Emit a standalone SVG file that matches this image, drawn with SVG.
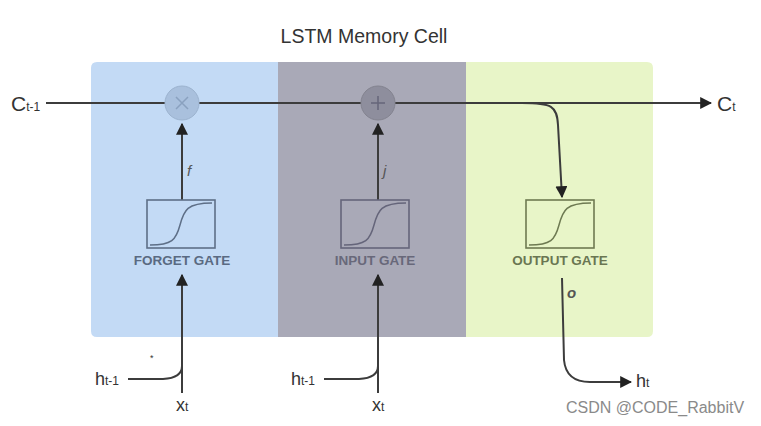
<svg xmlns="http://www.w3.org/2000/svg" width="761" height="426" viewBox="0 0 761 426">
<defs>
<style>
.t{font-family:"Liberation Sans",Arial,sans-serif;fill:#333}
.big{font-size:21px}
.sub{font-size:12px}
.lab{font-size:18px}
.gt{font-family:"Liberation Sans",Arial,sans-serif;font-size:13.5px;font-weight:bold;text-anchor:middle}
.ln{fill:none;stroke:#3c3c3c;stroke-width:2}
.box{stroke-width:1.6}
.it{font-family:"Liberation Sans",Arial,sans-serif;font-style:italic;font-size:15px;fill:#555}
</style>
<marker id="ah" viewBox="0 0 10 10" refX="9" refY="5" markerWidth="6" markerHeight="6" orient="auto-start-reverse">
<path d="M0,0 L10,5 L0,10 z" fill="#222"/>
</marker>
</defs>
<rect width="761" height="426" fill="#ffffff"/>

<text class="t" x="364" y="43" font-size="19.5" text-anchor="middle" fill="#444">LSTM Memory Cell</text>

<g id="panels">
<path d="M97,62 H278 V337 H97 Q91,337 91,331 V68 Q91,62 97,62 z" fill="#c3daf5"/>
<rect x="278" y="62" width="188" height="275" fill="#a9a9b7"/>
<path d="M466,62 H647 Q653,62 653,68 V331 Q653,337 647,337 H466 z" fill="#e8f5c8"/>
</g>

<g id="connectors">
<line class="ln" x1="46" y1="103" x2="165" y2="103"/>
<line class="ln" x1="199" y1="103" x2="361" y2="103"/>
<line class="ln" x1="395" y1="103" x2="711" y2="103" marker-end="url(#ah)"/>
<path class="ln" d="M522,103 C552,103 557,106 558,125 L562,197" marker-end="url(#ah)"/>
<line class="ln" x1="182" y1="200" x2="182" y2="124" marker-end="url(#ah)"/>
<line class="ln" x1="378" y1="200" x2="378" y2="124" marker-end="url(#ah)"/>
<line class="ln" x1="182" y1="393" x2="182" y2="275" marker-end="url(#ah)"/>
<path class="ln" d="M128,379 L163,379 Q182,378 182,366"/>
<line class="ln" x1="378" y1="393" x2="378" y2="275" marker-end="url(#ah)"/>
<path class="ln" d="M324,379 L359,379 Q378,378 378,366"/>
<path class="ln" d="M562,278 L564,360 Q566,382 590,382 L631,382" marker-end="url(#ah)"/>
</g>

<g id="mult">
<circle cx="182" cy="103" r="17" fill="#a9c0dd" stroke="#9cb3cf" stroke-width="1"/>
<path d="M176,97 L188,109 M188,97 L176,109" stroke="#8aa1bf" stroke-width="1.5"/>
</g>
<g id="add">
<circle cx="378" cy="103" r="17" fill="#8e8e9d" stroke="#83838f" stroke-width="1"/>
<path d="M378,96 V110 M371,103 H385" stroke="#66667a" stroke-width="1.5"/>
</g>

<g id="forget-gate">
<rect class="box" x="147" y="200" width="68" height="48" fill="none" stroke="#5e6f87"/>
<path d="M150,245 C172,245 176,240 180,225 S187,203 212,203" fill="none" stroke="#5e6f87" stroke-width="1.5"/>
<text class="gt" x="182" y="265" fill="#5a6a82">FORGET GATE</text>
</g>
<g id="input-gate">
<rect class="box" x="341" y="200" width="68" height="48" fill="none" stroke="#65657a"/>
<path d="M344,245 C366,245 370,240 374,225 S381,203 406,203" fill="none" stroke="#65657a" stroke-width="1.5"/>
<text class="gt" x="375" y="265" fill="#68687a">INPUT GATE</text>
</g>
<g id="output-gate">
<rect class="box" x="526" y="200" width="68" height="48" fill="none" stroke="#6e7a52"/>
<path d="M529,245 C551,245 555,240 559,225 S566,203 591,203" fill="none" stroke="#6e7a52" stroke-width="1.5"/>
<text class="gt" x="560" y="265" fill="#6a7652">OUTPUT GATE</text>
</g>

<g id="labels">
<text class="t" x="11" y="111"><tspan class="big">C</tspan><tspan class="sub">t-1</tspan></text>
<text class="t" x="717" y="111"><tspan class="big">C</tspan><tspan class="sub">t</tspan></text>
<text class="it" x="187" y="176">f</text>
<text class="it" x="383" y="176">j</text>
<text class="it" x="567" y="298" font-weight="bold" fill="#5f6b4a">o</text>
<text class="t" x="95" y="385"><tspan class="lab">h</tspan><tspan class="sub">t-1</tspan></text>
<text class="t" x="291" y="385"><tspan class="lab">h</tspan><tspan class="sub">t-1</tspan></text>
<text class="t" x="176" y="411"><tspan class="lab">x</tspan><tspan class="sub">t</tspan></text>
<text class="t" x="372" y="411"><tspan class="lab">x</tspan><tspan class="sub">t</tspan></text>
<text class="t" x="636" y="387"><tspan class="lab">h</tspan><tspan class="sub">t</tspan></text>
<text class="t" x="150" y="361" font-size="9" fill="#888">*</text>
</g>

<text x="566" y="413" font-family="'Liberation Sans',Arial,sans-serif" font-size="16" fill="#8a8a8a">CSDN @CODE_RabbitV</text>
</svg>
